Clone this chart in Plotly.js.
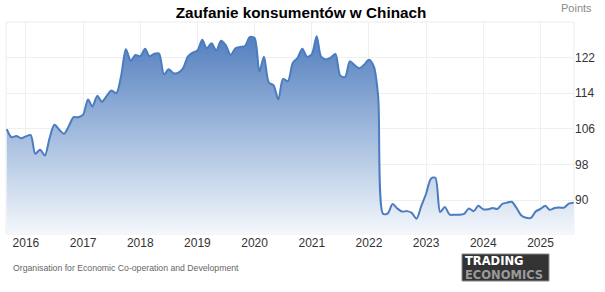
<!DOCTYPE html>
<html>
<head>
<meta charset="utf-8">
<script src="https://cdn.plot.ly/plotly-3.0.1.min.js"></script>
<style>
html,body{margin:0;padding:0;background:#fff;}
#chart{width:605px;height:292px;}
</style>
</head>
<body>
<div id="chart"></div>
<script>
// Monthly consumer confidence values (Points)
const y2015 = [105.9, 104.1, 104.4, 103.9];               // Sep–Dec 2015
const y2016 = [104.3, 104.6, 100.4, 101.3, 100.0, 104.0, 106.9, 105.8, 104.9, 106.6, 108.6, 108.6];
const y2017 = [109.2, 112.6, 111.0, 113.4, 112.1, 113.4, 114.6, 114.0, 118.0, 123.9, 121.3, 122.6];
const y2018 = [122.3, 124.0, 122.3, 122.9, 122.9, 118.2, 119.4, 118.5, 118.6, 119.6, 122.2, 123.1];
const y2019 = [123.6, 126.0, 124.1, 125.2, 123.6, 125.8, 124.8, 122.6, 124.1, 124.4, 124.6, 126.6];
const y2020 = [126.4, 118.9, 122.2, 116.4, 115.8, 112.6, 117.2, 116.7, 120.8, 121.9, 124.0, 122.2];
const y2021 = [122.8, 126.8, 122.2, 121.6, 122.0, 122.8, 118.0, 117.6, 121.2, 120.3, 119.6, 120.4];
const y2022 = [121.5, 120.0, 113.2, 86.9, 87.0, 89.1, 88.1, 87.4, 87.5, 87.1, 85.8, 88.6];
const y2023 = [91.4, 94.8, 95.0, 87.3, 88.4, 86.7, 86.7, 86.7, 86.9, 88.1, 87.5, 88.7];
const y2024 = [87.9, 87.9, 88.2, 88.0, 89.1, 89.4, 89.6, 88.2, 86.5, 86.0, 86.0, 87.4];
const y2025 = [88.0, 88.7, 87.8, 88.2, 88.3, 88.3, 89.2, 89.4];  // Jan–Aug 2025

const series = [
  {year: 2015, firstMonth: 9, vals: y2015},
  {year: 2016, firstMonth: 1, vals: y2016},
  {year: 2017, firstMonth: 1, vals: y2017},
  {year: 2018, firstMonth: 1, vals: y2018},
  {year: 2019, firstMonth: 1, vals: y2019},
  {year: 2020, firstMonth: 1, vals: y2020},
  {year: 2021, firstMonth: 1, vals: y2021},
  {year: 2022, firstMonth: 1, vals: y2022},
  {year: 2023, firstMonth: 1, vals: y2023},
  {year: 2024, firstMonth: 1, vals: y2024},
  {year: 2025, firstMonth: 1, vals: y2025}
];

const xTickYears = ['2016','2017','2018','2019','2020','2021','2022','2023','2024','2025'];
const yTicks = [90, 98, 106, 114, 122];

const chartTitle = 'Zaufanie konsumentów w Chinach';
const unitLabel = 'Points';
const sourceLabel = 'Organisation for Economic Co-operation and Development';

const dates = [], values = [];
series.forEach(s => {
  s.vals.forEach((v, i) => {
    const m = s.firstMonth + i;
    dates.push(s.year + '-' + String(m).padStart(2, '0') + '-01');
    values.push(v);
  });
});

const trace = {
  x: dates, y: values, type: 'scatter', mode: 'lines',
  line: {color: '#4a7cbf', width: 2, shape: 'spline', smoothing: 0.8},
  fill: 'tozeroy',
  fillgradient: {
    type: 'vertical',
    start: 82.4, stop: 127,
    colorscale: [[0, 'rgb(244,247,251)'], [0.5, 'rgb(163,188,222)'], [1, 'rgb(82,126,190)']]
  },
  hoverinfo: 'x+y'
};

const L = 6, R = 31, T = 22, B = 58, W = 605, H = 292;
const pw = W - L - R, ph = H - T - B;
const px = v => (v - L) / pw;
const py = v => (H - B - v) / ph;

const logoFont = '"DejaVu Sans", Arial, sans-serif';

const layout = {
  width: W, height: H,
  margin: {l: L, r: R, t: T, b: B, pad: 0},
  paper_bgcolor: '#ffffff', plot_bgcolor: '#ffffff',
  showlegend: false,
  font: {family: 'Arial, "Liberation Sans", sans-serif', color: '#333'},
  title: {
    text: '<b>' + chartTitle + '</b>',
    font: {size: 15.3, color: '#000', family: 'Arial, "Liberation Sans", sans-serif'},
    x: 301 / W, xanchor: 'center', xref: 'container',
    y: 1 - 12.5 / H, yanchor: 'middle', yref: 'container'
  },
  xaxis: {
    type: 'date',
    range: ['2015-08-27', '2025-08-03'],
    tickvals: xTickYears.map(y => y + '-01-01'),
    ticktext: xTickYears,
    showgrid: true, gridcolor: '#efefef', gridwidth: 1,
    zeroline: false, showline: false, ticks: '',
    tickfont: {size: 12, color: '#333'},
    fixedrange: true
  },
  yaxis: {
    side: 'right',
    range: [82.36, 130.0],
    tickvals: yTicks,
    showgrid: true, gridcolor: '#efefef', gridwidth: 1,
    zeroline: false, showline: false, ticks: '',
    tickfont: {size: 12, color: '#333'},
    fixedrange: true
  },
  shapes: [
    {type: 'rect', xref: 'paper', yref: 'paper', x0: 0, x1: 1, y0: 0, y1: 1,
     line: {color: '#ececec', width: 1}, fillcolor: 'rgba(0,0,0,0)', layer: 'below'},
    {type: 'rect', xref: 'paper', yref: 'paper', x0: px(462), x1: px(549), y0: py(254), y1: py(281),
     line: {color: '#8a8a8a', width: 1}, fillcolor: '#333333'}
  ],
  annotations: [
    {text: unitLabel, xref: 'paper', yref: 'paper', x: px(594), y: py(8),
     xanchor: 'right', yanchor: 'middle', showarrow: false,
     font: {size: 11, color: '#8a8a8a'}},
    {text: sourceLabel, xref: 'paper', yref: 'paper', x: px(11), y: py(268),
     xanchor: 'left', yanchor: 'middle', showarrow: false,
     font: {size: 8.7, color: '#666'}},
    {text: '<b>TRADING</b>', xref: 'paper', yref: 'paper', x: px(463), y: py(260.8),
     xanchor: 'left', yanchor: 'middle', showarrow: false,
     font: {size: 11.5, color: '#ffffff', family: logoFont}},
    {text: '<b>ECONOMICS</b>', xref: 'paper', yref: 'paper', x: px(463), y: py(274.6),
     xanchor: 'left', yanchor: 'middle', showarrow: false,
     font: {size: 11.5, color: '#9a9a9a', family: logoFont}}
  ]
};

Plotly.newPlot('chart', [trace], layout, {displayModeBar: false, staticPlot: true});
</script>
</body>
</html>
